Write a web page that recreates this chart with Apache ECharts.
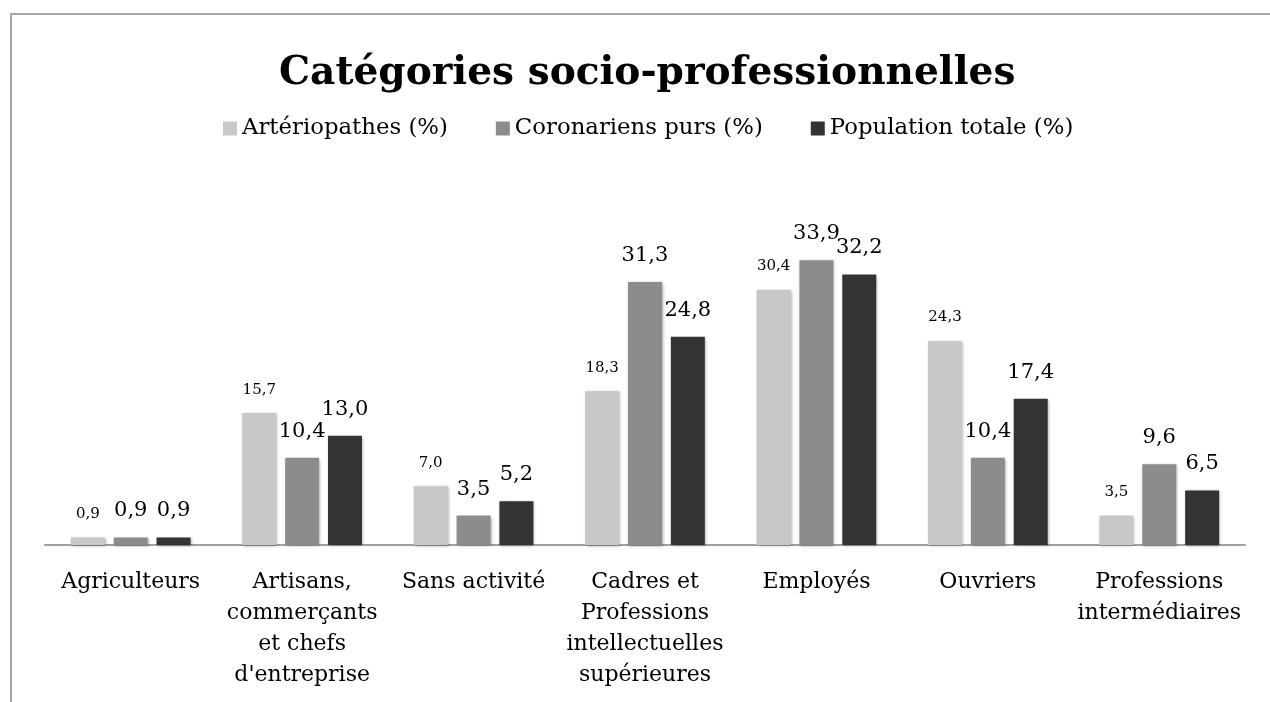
<!DOCTYPE html>
<html>
<head>
<meta charset="utf-8">
<script src="https://cdn.jsdelivr.net/npm/echarts@6/dist/echarts.min.js"></script>
<style>
  html, body { margin: 0; padding: 0; background: #fff; overflow: hidden; }
  #frame {
    position: absolute; left: 10px; top: 13px; width: 1300px; height: 760px;
    border-left: 2px solid #a6a6a6; border-top: 2px solid #a6a6a6;
  }
  #chart { position: absolute; left: 0; top: 0; width: 1270px; height: 702px; }
</style>
</head>
<body>
<div id="frame"></div>
<div id="chart"></div>
<script>
// categories (line breaks as in the original axis)
const categories = [
  'Agriculteurs',
  'Artisans,\ncommerçants\net chefs\nd\'entreprise',
  'Sans activité',
  'Cadres et\nProfessions\nintellectuelles\nsupérieures',
  'Employés',
  'Ouvriers',
  'Professions\nintermédiaires'
]

// series values (%)
const arteriopathes = [0.9, 15.7, 7.0, 18.3, 30.4, 24.3, 3.5]
const coronariens = [0.9, 10.4, 3.5, 31.3, 33.9, 10.4, 9.6]
const populationTotale = [0.9, 13.0, 5.2, 24.8, 32.2, 17.4, 6.5]

const seriesNames = ['Artériopathes (%)', 'Coronariens purs (%)', 'Population totale (%)']
const colors = ['#c8c8c8', '#8c8c8c', '#333333']

const fontFamily = '"DejaVu Serif", serif'

const chart = echarts.init(document.getElementById('chart'))

// format 0.9 -> "0,9"
const fmt = (p) => p.value.toFixed(1).replace('.', ',')

const makeSeries = (name, data, color, labelSize) => ({
  name: name,
  type: 'bar',
  data: data,
  barWidth: 34,
  barGap: '26%',
  itemStyle: {
    color: color,
    shadowBlur: 3,
    shadowColor: 'rgba(0,0,0,0.35)',
    shadowOffsetX: 1,
    shadowOffsetY: 1
  },
  label: {
    show: true,
    position: 'top',
    distance: 16,
    formatter: fmt,
    color: '#000',
    fontFamily: fontFamily,
    fontSize: labelSize
  }
})

const option = {
  animation: false,
  color: colors,
  title: {
    text: 'Catégories socio-professionnelles',
    left: 274,
    top: 49,
    textStyle: {
      fontFamily: fontFamily,
      fontSize: 39.1,
      fontWeight: 'bold',
      color: '#000'
    }
  },
  legend: {
    data: seriesNames,
    top: 112,
    left: 218,
    itemWidth: 14,
    itemHeight: 14,
    itemGap: 48,
    icon: 'rect',
    textStyle: {
      fontFamily: fontFamily,
      fontSize: 22.8,
      color: '#000'
    }
  },
  grid: {
    left: 45,
    right: 25,
    top: 209,
    bottom: 157
  },
  xAxis: {
    type: 'category',
    data: categories,
    axisLine: { lineStyle: { color: '#a0a0a0', width: 2 } },
    axisTick: { show: false },
    axisLabel: {
      interval: 0,
      margin: 22,
      color: '#000',
      fontFamily: fontFamily,
      fontSize: 22,
      lineHeight: 31
    }
  },
  yAxis: {
    type: 'value',
    min: 0,
    max: 40,
    show: false,
    splitLine: { show: false }
  },
  series: [
    makeSeries(seriesNames[0], arteriopathes, colors[0], 15),
    makeSeries(seriesNames[1], coronariens, colors[1], 21),
    makeSeries(seriesNames[2], populationTotale, colors[2], 21)
  ]
}

chart.setOption(option)
</script>
</body>
</html>
